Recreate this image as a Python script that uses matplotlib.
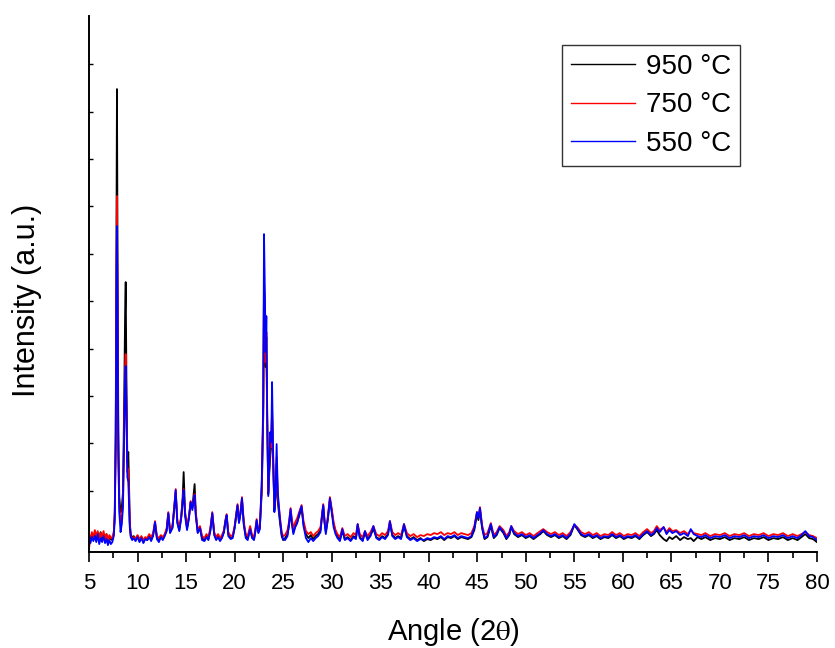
import matplotlib
matplotlib.use('Agg')
import matplotlib.pyplot as plt
from matplotlib.ticker import MultipleLocator

plt.rcParams['font.family'] = ['Liberation Sans', 'DejaVu Sans']
plt.rcParams['mathtext.fontset'] = 'stix'

# Ângulos (2θ)
angle = [
    # 5 - 7.6
    5.0, 5.15, 5.3, 5.45, 5.6, 5.75, 5.9, 6.05, 6.2, 6.35, 6.5, 6.65, 6.8, 6.95, 7.1, 7.25, 7.4, 7.55,
    # picos 7.9 / 8.8
    7.65, 7.75, 7.82, 7.88, 7.94, 8.02, 8.12, 8.25, 8.38, 8.5, 8.62, 8.72, 8.78, 8.85, 8.95, 9.05, 9.12,
    9.2, 9.3, 9.45, 9.6,
    # 9.8 - 22.8
    9.8, 10.0, 10.2, 10.4, 10.6, 10.8, 11.0, 11.2, 11.4, 11.6, 11.8, 12.0, 12.2, 12.4, 12.6,
    12.8, 13.0, 13.17, 13.35, 13.6, 13.8, 13.93, 14.1, 14.3, 14.5, 14.65, 14.75, 14.9, 15.1, 15.3,
    15.47, 15.65, 15.8, 15.88, 16.0, 16.2, 16.43, 16.65, 16.9, 17.1, 17.3, 17.5, 17.7, 17.9, 18.1,
    18.3, 18.5, 18.7, 18.9, 19.05, 19.18, 19.35, 19.6, 19.8, 20.0, 20.15, 20.3, 20.45, 20.6, 20.76,
    20.95, 21.15, 21.35, 21.6, 21.8, 22.0, 22.15, 22.27, 22.45, 22.6, 22.8,
    # pico 23
    22.95, 23.03, 23.12, 23.2, 23.27, 23.35, 23.47, 23.58, 23.68, 23.78, 23.86, 23.95, 24.1, 24.22,
    24.33, 24.45, 24.67, 24.85, 25.0,
    # 25 - 30.6
    25.2, 25.45, 25.6, 25.77, 25.9, 26.05, 26.25, 26.45, 26.65, 26.9, 27.1, 27.35, 27.6, 27.85,
    28.1, 28.35, 28.6, 28.85, 29.0, 29.13, 29.27, 29.4, 29.6, 29.82, 30.0, 30.2, 30.4, 30.6,
    # 30.8 - 47.3
    30.85, 31.1, 31.35, 31.65, 31.95, 32.25, 32.5, 32.68, 32.9, 33.2, 33.43, 33.7, 34.0, 34.3, 34.6,
    34.9, 35.2, 35.5, 35.8, 36.0, 36.25, 36.55, 36.85, 37.15, 37.45, 37.75, 38.1, 38.45, 38.8, 39.15,
    39.5, 39.85, 40.2, 40.55, 40.9, 41.25, 41.6, 41.95, 42.3, 42.65, 43.0, 43.35, 43.7, 44.05, 44.4,
    44.7, 44.97, 45.12, 45.28, 45.5, 45.75, 46.05, 46.4, 46.7, 47.0, 47.3,
    # 47.7 - 80
    47.7, 48.0, 48.3, 48.5, 48.8, 49.2, 49.6, 50.0, 50.4, 50.8,
    51.2, 51.5, 51.8, 52.2, 52.6, 53.0, 53.4, 53.8, 54.2, 54.6,
    55.0, 55.3, 55.7, 56.1, 56.5, 56.9, 57.3, 57.7, 58.1, 58.5,
    58.9, 59.3, 59.7, 60.1, 60.5, 60.9, 61.3, 61.7, 62.1, 62.5,
    62.9, 63.2, 63.5, 63.8, 64.2, 64.5, 64.8, 65.1, 65.5, 65.9,
    66.3, 66.7, 67.0, 67.3, 67.7, 68.1, 68.5, 69.0, 69.5, 70.0,
    70.5, 71.0, 71.5, 72.0, 72.5, 73.0, 73.5, 74.0, 74.5, 75.0,
    75.5, 76.0, 76.5, 77.0, 77.5, 78.0, 78.4, 78.8, 79.2, 79.6,
    80.0,
]

# Intensidades (u.a.) de cada amostra
i950 = [
    16, 12, 18, 14, 19, 13, 17, 15, 20, 12, 17, 14, 18, 11, 16, 13, 12, 18,
    40, 120, 300, 463, 300, 120, 55, 40, 45, 60, 150, 240, 270, 180, 90, 100, 70, 30, 18, 14, 16,
    12, 16, 11, 15, 10, 14, 12, 16, 13, 17, 28, 14, 12, 16, 13,
    17, 22, 38, 20, 25, 45, 60, 30, 22, 35, 55, 80, 40, 24, 35,
    50, 45, 60, 68, 40, 20, 25, 14, 12, 16, 13, 22, 38, 18, 13,
    16, 12, 15, 20, 30, 36, 18, 14, 15, 24, 35, 46, 30, 38, 52,
    28, 16, 14, 24, 15, 13, 22, 30, 20, 24, 60,
    135, 266, 235, 185, 215, 135, 58, 80, 96, 110, 140, 95, 42, 55, 88, 50, 30, 16, 12,
    14, 18, 26, 40, 30, 20, 26, 30, 36, 44, 28, 18, 14, 17, 13, 16, 18, 22, 35, 46, 30, 20, 32, 52,
    42, 28, 20, 16,
    12, 21, 13, 15, 12, 16, 14, 26, 15, 12, 19, 13, 17, 23, 15, 13, 16, 14, 18, 29, 17, 14, 16, 14,
    26, 16, 13, 15, 12, 14, 11, 13, 12, 14, 13, 15, 12, 15, 14, 16, 13, 15, 14, 13, 15, 22, 38, 32,
    42, 24, 13, 15, 26, 14, 17, 24,
    19, 13, 17, 25, 18, 15, 17, 14, 16, 13,
    16, 18, 21, 17, 15, 17, 14, 16, 13, 17,
    27, 23, 17, 15, 17, 14, 16, 13, 15, 14,
    17, 14, 16, 13, 15, 14, 16, 13, 17, 20,
    16, 18, 22, 17, 13, 11, 15, 13, 16, 12,
    15, 13, 14, 11, 15, 13, 15, 12, 14, 13,
    15, 12, 14, 13, 15, 12, 14, 13, 15, 12,
    14, 13, 15, 12, 14, 12, 15, 18, 14, 13,
    10,
]

i750 = [
    4, 14, 20, 15, 22, 16, 21, 14, 19, 15, 21, 13, 18, 12, 17, 14, 15, 20,
    35, 110, 260, 356, 250, 100, 45, 30, 35, 50, 120, 185, 198, 150, 80, 83, 60, 28, 16, 13, 15,
    14, 17, 13, 16, 12, 15, 14, 18, 15, 19, 31, 16, 14, 17, 15,
    18, 24, 40, 22, 27, 48, 63, 32, 24, 36, 52, 63, 38, 25, 36,
    51, 44, 54, 58, 38, 22, 26, 16, 14, 18, 15, 24, 40, 20, 15,
    18, 14, 17, 22, 32, 38, 20, 16, 17, 26, 37, 48, 32, 40, 55,
    30, 18, 16, 26, 17, 15, 24, 33, 22, 26, 65,
    140, 270, 240, 190, 220, 140, 60, 85, 115, 105, 146, 100, 45, 60, 95, 55, 35, 20, 16,
    17, 22, 30, 44, 33, 24, 30, 34, 40, 47, 31, 21, 18, 20, 16, 19, 21, 25, 37, 48, 32, 22, 35, 55,
    44, 30, 22, 18,
    15, 24, 16, 18, 15, 19, 17, 28, 18, 15, 21, 16, 20, 26, 18, 16, 19, 17, 21, 31, 20, 17, 19, 17,
    28, 19, 16, 18, 15, 17, 16, 18, 17, 19, 18, 20, 17, 19, 18, 20, 17, 19, 18, 17, 19, 26, 40, 35,
    45, 27, 17, 19, 29, 17, 20, 26,
    22, 16, 20, 26, 21, 18, 20, 17, 19, 16,
    19, 21, 23, 20, 18, 20, 17, 19, 16, 20,
    27, 25, 20, 18, 20, 17, 19, 16, 18, 17,
    20, 17, 19, 16, 18, 17, 19, 16, 20, 23,
    19, 21, 26, 22, 25, 20, 24, 21, 22, 19,
    21, 18, 22, 19, 18, 17, 19, 16, 18, 17,
    19, 16, 18, 17, 19, 16, 18, 17, 19, 16,
    18, 17, 19, 16, 18, 16, 18, 20, 17, 16,
    14,
]

i550 = [
    18, 9, 15, 11, 16, 10, 18, 8, 14, 10, 16, 9, 13, 7, 12, 8, 10, 16,
    32, 105, 245, 326, 235, 95, 40, 20, 28, 45, 115, 175, 186, 140, 75, 70, 50, 25, 15, 12, 14,
    11, 15, 10, 14, 9, 13, 12, 15, 11, 16, 30, 13, 10, 15, 12,
    16, 21, 39, 19, 24, 46, 62, 29, 21, 34, 50, 62, 36, 22, 34,
    50, 42, 53, 57, 36, 19, 24, 12, 11, 15, 12, 21, 39, 17, 12,
    15, 11, 14, 20, 31, 37, 16, 13, 14, 24, 36, 47, 29, 38, 54,
    27, 14, 12, 23, 14, 12, 21, 32, 19, 23, 73,
    150, 318, 260, 200, 236, 150, 56, 90, 120, 110, 170, 110, 40, 60, 108, 60, 33, 18, 13,
    12, 16, 28, 43, 28, 18, 25, 29, 38, 46, 26, 14, 10, 14, 11, 14, 16, 20, 36, 47, 29, 18, 33, 54,
    40, 25, 18, 14,
    11, 23, 12, 14, 11, 15, 13, 28, 14, 11, 21, 12, 16, 26, 14, 12, 15, 13, 17, 31, 16, 13, 15, 13,
    28, 15, 12, 14, 11, 13, 12, 14, 13, 15, 14, 16, 13, 16, 15, 17, 14, 16, 15, 14, 16, 24, 40, 34,
    44, 25, 14, 16, 28, 15, 18, 25,
    20, 14, 18, 26, 19, 16, 18, 15, 17, 14,
    17, 19, 22, 18, 16, 18, 15, 17, 14, 18,
    28, 24, 18, 16, 18, 15, 17, 14, 16, 15,
    18, 15, 17, 14, 16, 15, 17, 14, 18, 21,
    17, 19, 24, 20, 25, 18, 22, 19, 21, 17,
    19, 16, 23, 18, 16, 15, 17, 14, 16, 15,
    17, 14, 16, 15, 17, 14, 16, 15, 17, 14,
    16, 15, 17, 14, 16, 14, 17, 21, 16, 15,
    12,
]

labels = ['950 °C', '750 °C', '550 °C']
cores = ['black', 'red', 'blue']

fig = plt.figure(figsize=(8.35, 6.48), dpi=100)
ax = fig.add_axes([0.1066, 0.148, 0.8718, 0.8272])

for serie, cor, rot in zip([i950, i750, i550], cores, labels):
    ax.plot(angle, serie, color=cor, linewidth=1.3, label=rot)

ax.set_xlim(5, 80)
ax.set_ylim(0, 536)
ax.xaxis.set_major_locator(MultipleLocator(5))
ax.xaxis.set_minor_locator(MultipleLocator(2.5))
ax.set_yticks([14 + 47.37 * k for k in range(11)])
ax.set_yticklabels([])

ax.spines['top'].set_visible(False)
ax.spines['right'].set_visible(False)
for lado in ['left', 'bottom']:
    ax.spines[lado].set_linewidth(1.4)

ax.tick_params(axis='x', which='major', direction='out', length=7, width=1.2,
               labelsize=16, pad=8)
ax.tick_params(axis='x', which='minor', direction='out', length=4, width=1.2)
ax.tick_params(axis='y', which='major', direction='in', length=3, width=1.0)

ax.set_xlabel('Angle (2$\\mathrm{\\theta}$)', fontsize=21, labelpad=16)
ax.set_ylabel('Intensity (a.u.)', fontsize=22)
ax.yaxis.set_label_coords(-0.064, 0.47)

leg = ax.legend(loc='upper left', bbox_to_anchor=(0.650, 0.946), borderaxespad=0,
                fontsize=20, frameon=True, fancybox=False, edgecolor='black',
                handlelength=2.3, handletextpad=0.4, labelspacing=0.45,
                borderpad=0.32)
leg.get_frame().set_linewidth(1.0)
for linha in leg.get_lines():
    linha.set_linewidth(1.0)

plt.savefig('out.png', dpi=100)
